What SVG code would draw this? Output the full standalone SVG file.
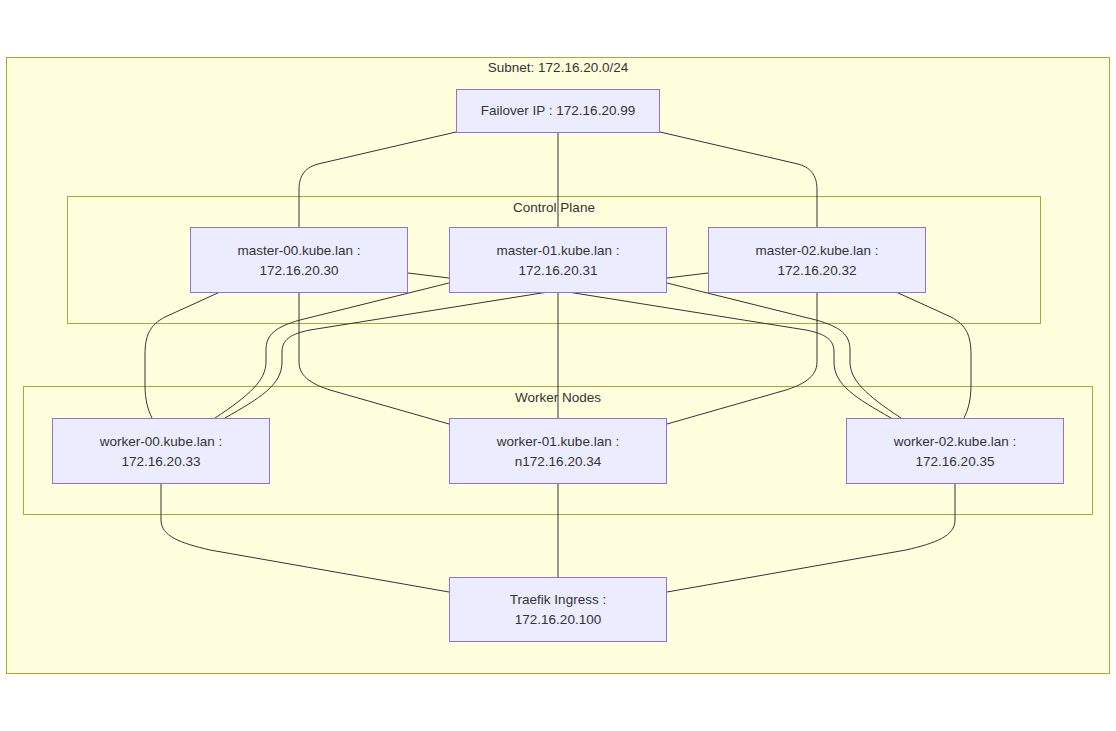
<svg xmlns="http://www.w3.org/2000/svg" width="1116" height="731" viewBox="0 0 1116 731">
<style>
.cluster{fill:#ffffde;stroke:#aaaa33;stroke-width:1}
.node rect{fill:#ececff;stroke:#9370db;stroke-width:1}
text{font-family:"Liberation Sans",Arial,sans-serif;font-size:13.5px;fill:#333;text-anchor:middle}
.edges path{fill:none;stroke:#333;stroke-width:1}
</style>
<rect width="1116" height="731" fill="#fff"/>
<g id="subnet">
<rect class="cluster" x="6.5" y="57.5" width="1103" height="616"/>
<text x="558" y="72">Subnet: 172.16.20.0/24</text>
</g>
<g id="control-plane">
<rect class="cluster" x="67.5" y="196.5" width="973" height="127"/>
<text x="554" y="212">Control Plane</text>
</g>
<g id="worker-nodes">
<rect class="cluster" x="23.5" y="386.5" width="1069" height="128"/>
<text x="558" y="402">Worker Nodes</text>
</g>
<g class="edges" id="connectors">
<path d="M558,133 L558,227"/>
<path d="M456,132 L318,164 C303,168 299,178 299,190 L299,227"/>
<path d="M660,132 L798,164 C813,168 817,178 817,190 L817,227"/>
<path d="M408,273 L449,278"/>
<path d="M708,273 L667,278"/>
<path d="M220,292 L165,317 C150,325 145,335 145,355 L145,385 C145,400 148,410 152,418"/>
<path d="M896,292 L951,317 C966,325 971,335 971,355 L971,385 C971,400 968,410 964,418"/>
<path d="M299,292 L299,362 C299,378 315,385 330,390 L449,424"/>
<path d="M817,292 L817,362 C817,378 801,385 786,390 L667,424"/>
<path d="M449,283 L300,320 C275,327 266,335 266,350 L266,362 C266,380 250,395 215,418"/>
<path d="M548,292 L310,330 C290,334 282,340 282,352 L282,362 C282,385 260,398 225,418"/>
<path d="M667,283 L816,320 C841,327 850,335 850,350 L850,362 C850,380 866,395 901,418"/>
<path d="M568,292 L806,330 C826,334 834,340 834,352 L834,362 C834,385 856,398 891,418"/>
<path d="M558,292 L558,418"/>
<path d="M161,483 L161,520 C161,536 180,543 210,550 L449,592"/>
<path d="M955,483 L955,520 C955,536 936,543 906,550 L667,592"/>
<path d="M558,483 L558,577"/>
</g>
<g class="node" id="failover">
<rect x="456.5" y="89.5" width="203" height="43"/>
<text x="558" y="115">Failover IP : 172.16.20.99</text>
</g>
<g class="node" id="master-00">
<rect x="190.5" y="227.5" width="217" height="65"/>
<text x="299" y="255">master-00.kube.lan :</text>
<text x="299" y="275">172.16.20.30</text>
</g>
<g class="node" id="master-01">
<rect x="449.5" y="227.5" width="217" height="65"/>
<text x="558" y="255">master-01.kube.lan :</text>
<text x="558" y="275">172.16.20.31</text>
</g>
<g class="node" id="master-02">
<rect x="708.5" y="227.5" width="217" height="65"/>
<text x="817" y="255">master-02.kube.lan :</text>
<text x="817" y="275">172.16.20.32</text>
</g>
<g class="node" id="worker-00">
<rect x="52.5" y="418.5" width="217" height="65"/>
<text x="161" y="446">worker-00.kube.lan :</text>
<text x="161" y="466">172.16.20.33</text>
</g>
<g class="node" id="worker-01">
<rect x="449.5" y="418.5" width="217" height="65"/>
<text x="558" y="446">worker-01.kube.lan :</text>
<text x="558" y="466">n172.16.20.34</text>
</g>
<g class="node" id="worker-02">
<rect x="846.5" y="418.5" width="217" height="65"/>
<text x="955" y="446">worker-02.kube.lan :</text>
<text x="955" y="466">172.16.20.35</text>
</g>
<g class="node" id="traefik">
<rect x="449.5" y="577.5" width="217" height="64"/>
<text x="558" y="604">Traefik Ingress :</text>
<text x="558" y="624">172.16.20.100</text>
</g>
</svg>
